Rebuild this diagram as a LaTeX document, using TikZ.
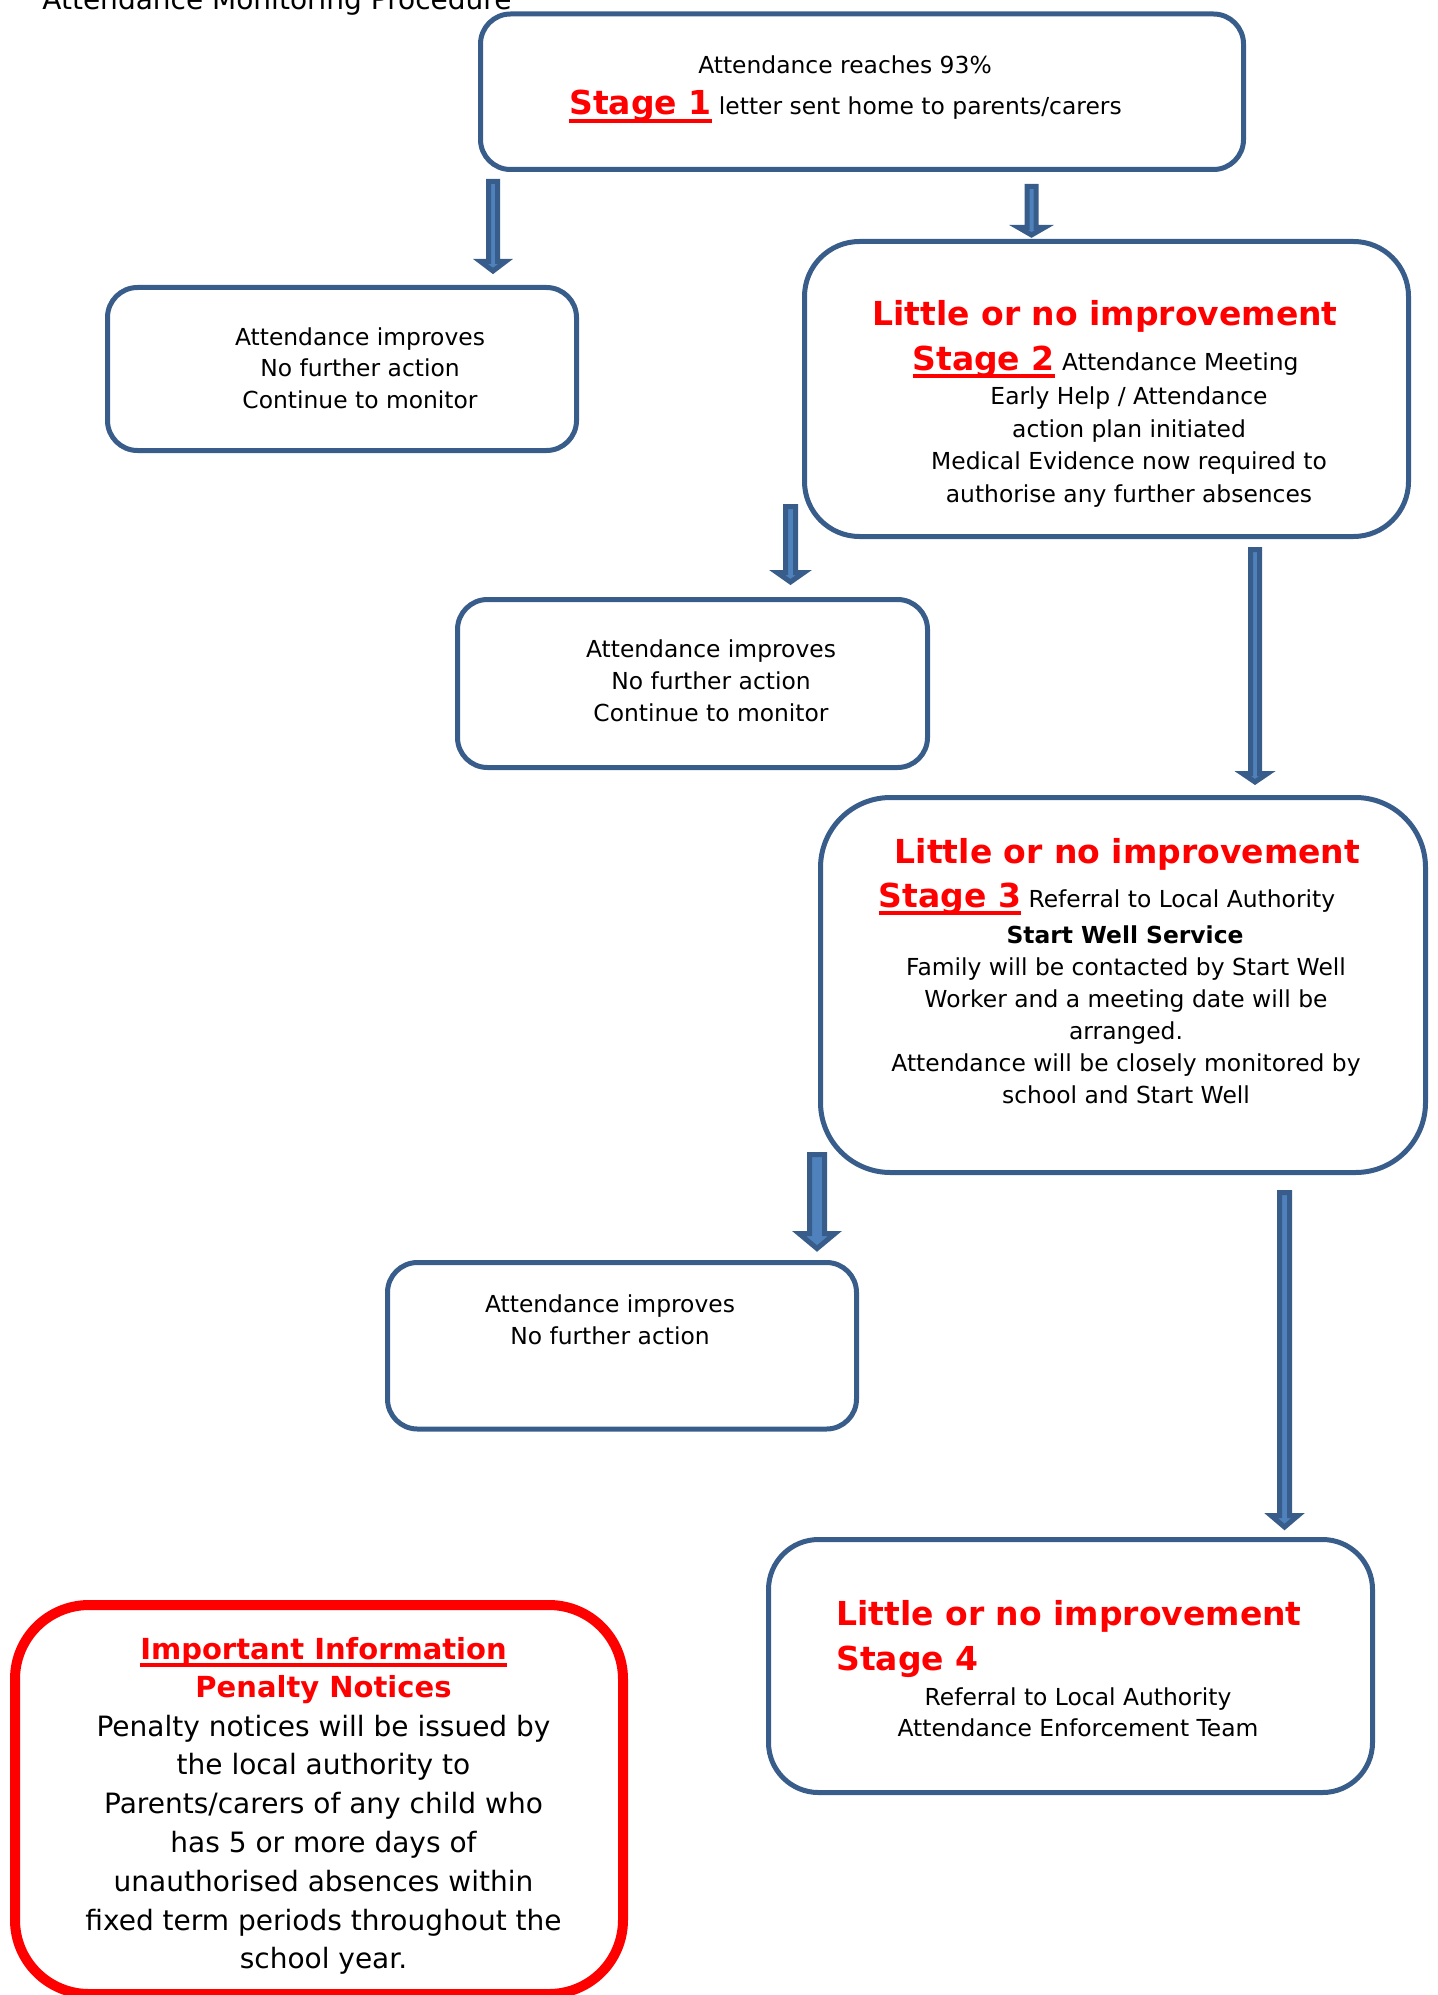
\documentclass[tikz,border=0pt]{standalone}
\usepackage{fontspec}
\setmainfont{DejaVu Sans}
\usetikzlibrary{calc}
\definecolor{boxblue}{HTML}{385D8A}
\definecolor{arrfill}{HTML}{4F81BD}
\definecolor{hred}{HTML}{FF0000}
\newsavebox\ulbox
\newcommand\myul[1]{\sbox\ulbox{#1}\rlap{\rule[-3.9pt]{\wd\ulbox}{1.9pt}}\usebox\ulbox}
\newcommand\nrmsize{\fontsize{11.7pt}{15.75pt}\selectfont}
\newcommand\hdsize{\fontsize{16.5pt}{20pt}\selectfont\bfseries}
\newcommand\stg[1]{{\hdsize\color{hred}\myul{#1}}}
\newcommand\blockarrow[5]{\draw[blockarr] ($(#1)+(-#3,0)$) -- ($(#1)+(#3,0)$) -- ($(#2)+(#3,-#5)$) -- ($(#2)+(#4,-#5)$) -- (#2) -- ($(#2)+(-#4,-#5)$) -- ($(#2)+(-#3,-#5)$) -- cycle;}
\begin{document}
\begin{tikzpicture}[x=0.5pt,y=-0.5pt,
 bluebox/.style={draw=boxblue, line width=2.5pt, rounded corners=15pt, inner sep=0pt},
 redbox/.style={draw=hred, line width=5pt, rounded corners=37pt, inner sep=0pt},
 txt/.style={inner sep=0pt, anchor=base, font=\nrmsize},
 hd/.style={inner sep=0pt, anchor=base, font=\hdsize, text=hred},
 imptxt/.style={inner sep=0pt, anchor=base, font=\fontsize{14pt}{17pt}\selectfont},
 imphd/.style={inner sep=0pt, anchor=base, font=\fontsize{14.5pt}{17pt}\selectfont\bfseries, text=hred},
 blockarr/.style={fill=arrfill, draw=boxblue, line width=2.5pt, miter limit=10}]
\useasboundingbox (0,0) rectangle (1437,1995);

% title (cut at the top, as in the source)
\node[inner sep=0pt, anchor=base west, font=\fontsize{14pt}{17pt}\selectfont] (title) at (42,10) {Attendance Monitoring Procedure};

% boxes
\node[bluebox, minimum width=381.5pt, minimum height=77.75pt] (s1) at (862,91.75) {};
\node[bluebox, minimum width=234.5pt, minimum height=81.5pt] (a1) at (342,369) {};
\node[bluebox, rounded corners=27.5pt, minimum width=302pt, minimum height=147.5pt] (s2) at (1106.5,389) {};
\node[bluebox, minimum width=235pt, minimum height=84pt] (a2) at (692.5,683.5) {};
\node[bluebox, rounded corners=35pt, minimum width=302.5pt, minimum height=187.5pt] (s3) at (1123,985) {};
\node[bluebox, minimum width=234.5pt, minimum height=83.25pt] (a3) at (622,1345.75) {};
\node[bluebox, rounded corners=25pt, minimum width=302pt, minimum height=126.5pt] (s4) at (1070.5,1666) {};
\node[redbox, minimum width=304pt, minimum height=194.5pt] (imp) at (319,1799.5) {};

% arrows
\coordinate (r1s) at (493,181.5);   \coordinate (r1e) at (493,271);
\coordinate (r2s) at (1031.5,186.5); \coordinate (r2e) at (1031.5,235);
\coordinate (r3s) at (790.5,506.5); \coordinate (r3e) at (790.5,582);
\coordinate (r4s) at (1255,549.5);  \coordinate (r4e) at (1255,782);
\coordinate (r5s) at (817,1154.5);  \coordinate (r5e) at (817,1248.5);
\coordinate (r6s) at (1284.5,1192.5); \coordinate (r6e) at (1284.5,1527);
\blockarrow{r1s}{r1e}{4.5}{12.5}{9.5}
\blockarrow{r2s}{r2e}{4.5}{13}{7.5}
\blockarrow{r3s}{r3e}{5}{13.5}{9.5}
\blockarrow{r4s}{r4e}{4.5}{12.5}{8.5}
\blockarrow{r5s}{r5e}{7.5}{18}{15}
\blockarrow{r6s}{r6e}{5}{13.5}{11.5}

% stage 1
\node[txt] (s1a) at (845,73.5) {Attendance reaches 93\%};
\node[txt] (s1b) at (845.5,115) {\stg{Stage 1} letter sent home to parents/carers};

% improves 1
\node[txt] (a1a) at (360,345.5) {Attendance improves};
\node[txt] (a1b) at (360,377) {No further action};
\node[txt] (a1c) at (360,408.5) {Continue to monitor};

% stage 2
\node[hd] (s2a) at (1105,325.5) {Little or no improvement};
\node[txt] (s2b) at (1105.5,370.5) {\stg{Stage 2} Attendance Meeting};
\node[txt] (s2c) at (1129,404.5) {Early Help / Attendance};
\node[txt] (s2d) at (1129,437.5) {action plan initiated};
\node[txt] (s2e) at (1129,469.5) {Medical Evidence now required to};
\node[txt] (s2f) at (1129,502.5) {authorise any further absences};

% improves 2
\node[txt] (a2a) at (711,657.5) {Attendance improves};
\node[txt] (a2b) at (711,689.5) {No further action};
\node[txt] (a2c) at (711,721.5) {Continue to monitor};

% stage 3
\node[hd] (s3a) at (1127.5,863) {Little or no improvement};
\node[txt] (s3b) at (1107,907) {\stg{Stage 3} Referral to Local Authority};
\node[txt, font=\nrmsize\bfseries] (s3c) at (1125,943.5) {Start Well Service};
\node[txt] (s3d) at (1126,975) {Family will be contacted by Start Well};
\node[txt] (s3e) at (1126,1007.5) {Worker and a meeting date will be};
\node[txt] (s3f) at (1126,1039.5) {arranged.};
\node[txt] (s3g) at (1126,1071) {Attendance will be closely monitored by};
\node[txt] (s3h) at (1126,1103) {school and Start Well};

% improves 3
\node[txt] (a3a) at (610,1312.5) {Attendance improves};
\node[txt] (a3b) at (610,1344) {No further action};

% stage 4
\node[hd, anchor=base west] (s4a) at (836,1625) {Little or no improvement};
\node[hd, anchor=base west] (s4b) at (836,1670.5) {Stage 4};
\node[txt] (s4c) at (1078,1705.5) {Referral to Local Authority};
\node[txt] (s4d) at (1078,1736.5) {Attendance Enforcement Team};

% important information
\node[imphd] (impa) at (323.5,1659) {\myul{Important Information}};
\node[imphd] (impb) at (323.5,1697) {Penalty Notices};
\node[imptxt] (impc) at (323.5,1736) {Penalty notices will be issued by};
\node[imptxt] (impd) at (323.5,1774.8) {the local authority to};
\node[imptxt] (impe) at (323.5,1813.6) {Parents/carers of any child who};
\node[imptxt] (impf) at (323.5,1852.4) {has 5 or more days of};
\node[imptxt] (impg) at (323.5,1891.2) {unauthorised absences within};
\node[imptxt] (imph) at (323.5,1930) {fixed term periods throughout the};
\node[imptxt] (impi) at (323.5,1968.8) {school year.};
\end{tikzpicture}
\end{document}
